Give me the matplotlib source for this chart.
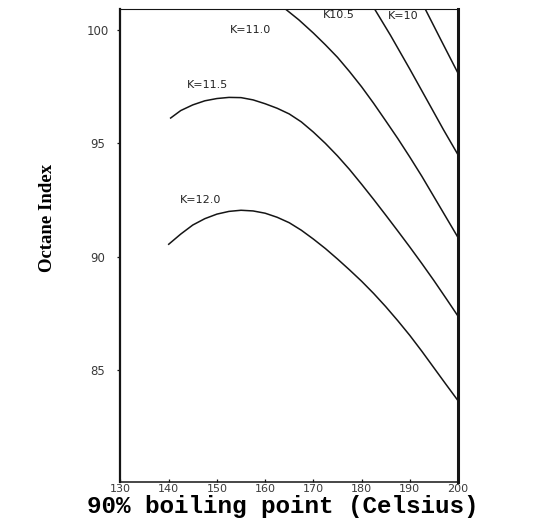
import matplotlib
matplotlib.use("Agg")
import matplotlib.pyplot as plt

# 90% boiling point (C) vs octane index, one curve per K factor
k100_x = [193.2, 196.5, 200.0]
k100_y = [100.93, 99.55, 98.1]

k105_x = [182.7, 186.0, 190.0, 194.0, 197.0, 200.0]
k105_y = [100.93, 99.77, 98.28, 96.75, 95.6, 94.5]

k110_x = [164.2, 167, 170, 172.5, 175, 177.5, 180, 182.5, 185, 187.5, 190, 192.5, 195, 197.5, 200]
k110_y = [100.93, 100.45, 99.87, 99.35, 98.8, 98.17, 97.5, 96.77, 96.0, 95.22, 94.4, 93.55, 92.65, 91.75, 90.85]

k115_x = [140.4, 142.5, 145, 147.5, 150, 152.5, 155, 157.5, 160, 162.5, 165, 167.5, 170, 172.5,
          175, 177.5, 180, 182.5, 185, 187.5, 190, 192.5, 195, 197.5, 200]
k115_y = [96.12, 96.45, 96.7, 96.88, 96.98, 97.03, 97.02, 96.92, 96.75, 96.55, 96.3, 95.95, 95.5, 95.0,
          94.45, 93.85, 93.2, 92.53, 91.84, 91.14, 90.43, 89.7, 88.95, 88.17, 87.38]

k120_x = [140, 142.5, 145, 147.5, 150, 152.5, 155, 157.5, 160, 162.5, 165, 167.5, 170, 172.5,
          175, 177.5, 180, 182.5, 185, 187.5, 190, 192.5, 195, 197.5, 200]
k120_y = [90.55, 91.0, 91.4, 91.68, 91.88, 92.0, 92.05, 92.02, 91.92, 91.74, 91.5, 91.17, 90.78, 90.36,
          89.9, 89.42, 88.92, 88.38, 87.8, 87.18, 86.53, 85.83, 85.1, 84.37, 83.65]

curve_labels = ["K=10", "K10.5", "K=11.0", "K=11.5", "K=12.0"]
label_x = [188.7, 175.3, 157.0, 148.0, 146.7]
label_y = [100.62, 100.66, 100.0, 97.57, 92.5]

x_ticks = [130, 140, 150, 160, 170, 180, 190, 200]
y_ticks = [85, 90, 95, 100]

fig = plt.figure(figsize=(5.54, 5.27), dpi=100)
ax = fig.add_axes([0.2175, 0.0854, 0.6092, 0.8975])

ink = "#151515"
for xs, ys in [(k100_x, k100_y), (k105_x, k105_y), (k110_x, k110_y),
               (k115_x, k115_y), (k120_x, k120_y)]:
    ax.plot(xs, ys, color=ink, lw=1.1)

for t, x, y in zip(curve_labels, label_x, label_y):
    ax.text(x, y, t, ha="center", va="center", fontsize=8, color="#222222")

ax.set_xlim(130, 200)
ax.set_ylim(80.06, 100.93)
ax.set_xticks(x_ticks)
ax.set_yticks(y_ticks)
ax.set_xticklabels([str(v) for v in x_ticks])
ax.set_yticklabels([str(v) for v in y_ticks])

ax.tick_params(axis="x", direction="in", length=2.5, width=0.9, pad=1.5,
               labelsize=8, labelcolor="#3a3a3a", color=ink)
ax.tick_params(axis="y", direction="out", length=2.5, width=0.9, pad=14,
               labelsize=8.5, labelcolor="#3a3a3a", color=ink)
for lab in ax.get_yticklabels():
    lab.set_horizontalalignment("center")

ax.spines["left"].set_linewidth(1.6)
ax.spines["right"].set_linewidth(2.2)
ax.spines["bottom"].set_linewidth(1.1)
ax.spines["top"].set_linewidth(0.8)
for s in ax.spines.values():
    s.set_color(ink)

fig.text(47 / 554, 1 - 218 / 527, "Octane Index", rotation=90, ha="center", va="center",
         fontsize=13.5, fontweight="bold", family=["Liberation Serif", "DejaVu Serif"])
fig.text(283 / 554, 1 - 513 / 527, "90% boiling point (Celsius)", ha="center", va="baseline",
         fontsize=17.5, fontweight="bold", family=["Liberation Mono", "DejaVu Sans Mono"])

plt.savefig("out.png", dpi=100)
